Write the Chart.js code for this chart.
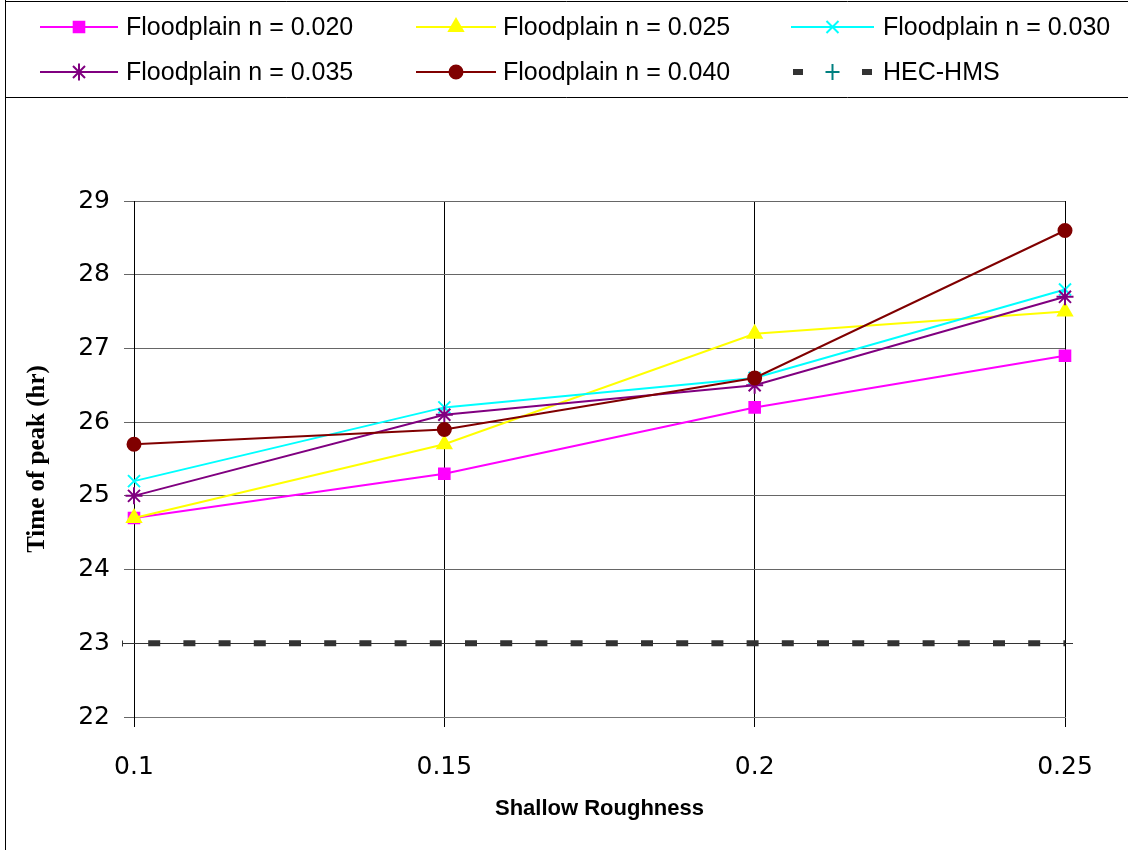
<!DOCTYPE html>
<html>
<head>
<meta charset="utf-8">
<script src="https://cdn.jsdelivr.net/npm/chart.js@4/dist/chart.umd.min.js"></script>
<style>
html,body{margin:0;padding:0;background:#fff;}
canvas{display:block;}
</style>
</head>
<body>
<canvas id="c" width="1128" height="850"></canvas>
<script>
// ---- data ----
const categories = ['0.1', '0.15', '0.2', '0.25'];
const seriesNames = ['Floodplain n = 0.020', 'Floodplain n = 0.025', 'Floodplain n = 0.030',
                     'Floodplain n = 0.035', 'Floodplain n = 0.040', 'HEC-HMS'];
const n020 = [24.7, 25.3, 26.2, 26.9];
const n025 = [24.7, 25.7, 27.2, 27.5];
const n030 = [25.2, 26.2, 26.6, 27.8];
const n035 = [25.0, 26.1, 26.5, 27.7];
const n040 = [25.7, 25.9, 26.6, 28.6];
const hecHms = [23, 23, 23, 23];
const yMin = 22, yMax = 29, yStep = 1;
const xTitle = 'Shallow Roughness';
const yTitle = 'Time of peak (hr)';

// ---- styles ----
const colors = ['#FF00FF', '#FFFF00', '#00FFFF', '#800080', '#800000', '#333333'];
const styles = [
  {pointStyle: 'rect', radius: 7.5},
  {pointStyle: 'triangle', radius: 8},
  {pointStyle: 'crossRot', radius: 8.5},
  {pointStyle: 'star', radius: 8.5},
  {pointStyle: 'circle', radius: 6.5}
];
const values = [n020, n025, n030, n035, n040];

const datasets = values.map((v, i) => ({
  label: seriesNames[i],
  data: v,
  borderColor: colors[i],
  backgroundColor: colors[i],
  borderWidth: 2,
  pointStyle: styles[i].pointStyle,
  pointRadius: styles[i].radius,
  pointBorderWidth: 2,
  pointBorderColor: colors[i],
  pointBackgroundColor: colors[i],
  tension: 0,
  order: 5 - i
}));
datasets.push({
  label: seriesNames[5],
  data: hecHms,
  borderColor: '#333333',
  borderWidth: 6,
  borderDash: [12, 23.2],
  borderDashOffset: 21,
  borderCapStyle: 'butt',
  pointRadius: 0,
  tension: 0,
  order: 10
});

const legendPlugin = {
  id: 'customLegend',
  beforeDatasetsDraw(chart) {
    // thin dark reference line under HEC-HMS dashes
    const ctx = chart.ctx, ys = chart.scales.y, xs = chart.scales.x;
    const y = Math.round(ys.getPixelForValue(hecHms[0])) + 0.5;
    ctx.save();
    ctx.strokeStyle = '#333';
    ctx.lineWidth = 1;
    ctx.beginPath();
    ctx.moveTo(xs.left - 11, y); ctx.lineTo(xs.right + 8, y);
    ctx.moveTo(xs.left - 11.5, y - 3); ctx.lineTo(xs.left - 11.5, y + 3);
    ctx.stroke();
    ctx.restore();
  },
  afterDraw(chart) {
    const ctx = chart.ctx;
    ctx.save();
    // frame
    ctx.strokeStyle = '#000';
    ctx.lineWidth = 1;
    ctx.beginPath();
    ctx.moveTo(5.5, 0); ctx.lineTo(5.5, 850);
    ctx.moveTo(5.5, 1.5); ctx.lineTo(1128, 1.5);
    ctx.moveTo(5.5, 97.5); ctx.lineTo(1128, 97.5);
    ctx.stroke();

    const rows = [27, 72];
    const lineStart = [40, 416, 791];
    const lineEnd = [118, 496, 874];
    const textX = [126, 503, 883];
    ctx.font = '25px "Liberation Sans", Arial, sans-serif';
    ctx.textBaseline = 'middle';
    ctx.textAlign = 'left';
    chart.data.datasets.forEach((ds, i) => {
      const r = Math.floor(i / 3), c = i % 3;
      const y = rows[r];
      const x0 = lineStart[c], x1 = lineEnd[c];
      const xm = (x0 + x1) / 2;
      if (i < 5) {
        ctx.strokeStyle = ds.borderColor;
        ctx.lineWidth = 2;
        ctx.setLineDash([]);
        ctx.beginPath(); ctx.moveTo(x0, y); ctx.lineTo(x1, y); ctx.stroke();
        ctx.fillStyle = ds.pointBackgroundColor;
        ctx.strokeStyle = ds.pointBorderColor;
        ctx.lineWidth = 2;
        Chart.helpers.drawPoint(ctx, {pointStyle: ds.pointStyle, radius: ds.pointRadius, rotation: 0, borderWidth: 2}, xm, y);
      } else {
        ctx.fillStyle = '#333333';
        ctx.fillRect(x0 + 2, y - 3, 10, 6);
        ctx.fillRect(x1 - 12, y - 3, 10, 6);
        ctx.strokeStyle = '#008080';
        ctx.lineWidth = 2;
        ctx.beginPath();
        ctx.moveTo(xm - 7, y); ctx.lineTo(xm + 7, y);
        ctx.moveTo(xm, y - 8); ctx.lineTo(xm, y + 8);
        ctx.stroke();
      }
      ctx.fillStyle = '#000';
      ctx.fillText(ds.label, textX[c], y + 1);
    });
    ctx.restore();
  }
};

new Chart(document.getElementById('c'), {
  type: 'line',
  data: {labels: categories, datasets: datasets},
  options: {
    responsive: false,
    animation: false,
    devicePixelRatio: 1,
    layout: {padding: {top: 201, right: 63, left: 0, bottom: 0}},
    plugins: {legend: {display: false}, tooltip: {enabled: false}},
    scales: {
      x: {
        type: 'category',
        offset: false,
        grid: {color: '#000', lineWidth: 1, tickLength: 10, tickColor: '#000'},
        border: {color: '#777'},
        ticks: {font: {family: '"DejaVu Sans", sans-serif', size: 25}, color: '#000', padding: 25, maxRotation: 0},
        title: {display: true, text: xTitle, color: '#000',
                font: {family: '"Liberation Sans", Arial, sans-serif', size: 22, weight: 'bold'},
                padding: {top: 0, bottom: 28}},
        afterFit(s) { s.height = 133; }
      },
      y: {
        min: yMin, max: yMax,
        ticks: {stepSize: yStep, font: {family: '"DejaVu Sans", sans-serif', size: 25}, color: '#000', padding: 14},
        grid: {color: '#666', lineWidth: 1, tickLength: 10, tickColor: '#666'},
        border: {color: '#000'},
        title: {display: true, text: yTitle, color: '#000',
                font: {family: '"Liberation Serif", "Times New Roman", serif', size: 25, weight: 'bold'},
                padding: {top: 23, bottom: 0}},
        afterFit(s) { s.width = 134; }
      }
    }
  },
  plugins: [legendPlugin]
});
</script>
</body>
</html>
